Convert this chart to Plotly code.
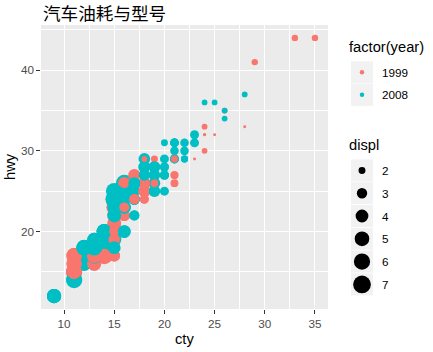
import numpy as np
import plotly.graph_objects as go

# ---- data (mpg: displ, year, cty, hwy) ----
displ = [1.8,1.8,2.0,2.0,2.8,2.8,3.1,1.8,1.8,2.0,2.0,2.8,2.8,3.1,3.1,2.8,3.1,4.2,
         5.3,5.3,5.3,5.7,6.0,5.7,5.7,6.2,6.2,7.0,5.3,5.3,5.7,6.5,2.4,2.4,3.1,3.5,3.6,
         2.4,3.0,3.3,3.3,3.3,3.3,3.3,3.8,3.8,3.8,4.0,3.7,3.7,3.9,3.9,4.7,4.7,4.7,5.2,5.2,
         3.9,4.7,4.7,4.7,5.2,5.7,5.9,4.7,4.7,4.7,4.7,5.2,5.2,5.7,5.9,4.7,5.2,
         4.6,5.4,5.4,4.0,4.0,4.0,4.0,4.6,5.0,4.2,4.2,4.6,4.6,4.6,5.4,5.4,3.8,3.8,4.0,4.0,4.6,4.6,4.6,4.6,5.4,
         1.6,1.6,1.6,1.6,1.6,1.8,1.8,1.8,2.0,
         2.4,2.4,2.4,2.4,2.5,2.5,3.3,2.0,2.0,2.0,2.0,2.7,2.7,2.7,
         3.0,3.7,4.0,4.7,4.7,4.7,5.7,6.1,
         4.0,4.2,4.4,4.6,
         5.4,5.4,5.4,
         4.0,4.0,4.6,5.0,
         2.4,2.4,2.5,2.5,3.5,3.5,3.0,3.0,3.5,3.3,3.3,4.0,5.6,
         3.1,3.8,3.8,3.8,5.3,
         2.5,2.5,2.5,2.5,2.5,2.5,2.2,2.2,2.5,2.5,2.5,2.5,2.5,2.5,
         2.7,2.7,3.4,3.4,4.0,4.7,2.2,2.2,2.4,2.4,3.0,3.0,3.5,2.2,2.2,2.4,2.4,3.0,3.0,3.3,
         1.8,1.8,1.8,1.8,1.8,4.7,5.7,2.7,2.7,2.7,3.4,3.4,4.0,4.0,
         2.0,2.0,2.0,2.0,2.8,1.9,2.0,2.0,2.0,2.0,2.5,2.5,2.8,2.8,1.9,1.9,2.0,2.0,2.5,2.5,
         1.8,1.8,2.0,2.0,2.8,2.8,3.6]
year = [1999,1999,2008,2008,1999,1999,2008,1999,1999,2008,2008,1999,1999,2008,2008,1999,2008,2008,
        2008,2008,2008,1999,2008,1999,1999,2008,2008,2008,2008,2008,1999,1999,1999,2008,1999,2008,2008,
        1999,1999,1999,1999,2008,2008,2008,1999,1999,2008,2008,2008,2008,1999,1999,2008,2008,2008,1999,1999,
        1999,2008,2008,2008,1999,2008,1999,2008,2008,2008,2008,1999,1999,2008,1999,2008,1999,
        1999,1999,2008,1999,1999,1999,2008,2008,1999,1999,1999,1999,1999,2008,1999,2008,1999,1999,2008,2008,1999,1999,2008,2008,2008,
        1999,1999,1999,1999,1999,2008,2008,2008,2008,
        1999,1999,2008,2008,1999,1999,2008,1999,1999,2008,2008,2008,2008,2008,
        2008,2008,1999,1999,2008,2008,2008,2008,
        1999,2008,2008,1999,
        1999,1999,2008,
        1999,2008,2008,1999,
        1999,1999,2008,2008,2008,2008,1999,1999,2008,1999,1999,2008,2008,
        1999,1999,1999,2008,2008,
        1999,1999,2008,2008,2008,2008,1999,1999,1999,1999,2008,2008,2008,2008,
        1999,1999,1999,1999,2008,2008,1999,1999,2008,2008,1999,1999,2008,1999,1999,2008,2008,1999,1999,2008,
        1999,1999,1999,2008,2008,1999,2008,1999,1999,2008,1999,1999,2008,2008,
        1999,1999,2008,2008,1999,1999,1999,1999,2008,2008,2008,2008,1999,1999,1999,1999,1999,1999,2008,2008,
        1999,1999,2008,2008,1999,1999,2008]
cty = [18,21,20,21,16,18,18,18,16,20,19,15,17,17,15,15,17,16,
       14,11,14,13,12,16,15,16,15,15,14,11,11,14,19,22,18,18,17,
       18,17,16,16,17,17,11,15,15,16,16,15,14,13,14,14,14,9,11,11,
       13,13,9,13,11,13,11,12,9,13,13,11,11,13,11,12,11,
       11,11,12,14,15,14,13,13,13,14,14,13,13,13,11,13,18,18,17,16,15,15,15,15,14,
       28,24,25,23,24,26,25,24,21,
       18,18,21,21,18,18,19,19,19,20,20,17,16,17,
       17,15,15,14,9,14,13,11,
       11,12,12,11,
       11,11,12,
       14,13,13,13,
       21,19,23,23,19,19,18,19,19,14,15,14,12,
       18,16,17,18,16,
       18,18,20,20,19,20,21,19,19,19,20,20,19,20,
       15,16,15,15,16,15,21,21,21,21,18,18,19,21,21,21,22,18,18,18,
       24,24,26,28,26,11,13,15,16,17,15,15,15,16,
       21,19,21,22,17,33,21,19,22,21,21,21,16,17,35,29,21,19,20,20,
       21,18,19,22,17,16,17]
hwy = [29,29,31,30,26,26,27,26,25,28,27,25,25,25,25,24,25,23,
       20,15,20,17,17,26,23,26,25,24,19,14,15,17,27,30,26,29,26,
       24,24,22,22,24,24,17,22,21,23,23,19,18,17,17,19,19,12,17,15,
       17,17,12,17,16,18,15,16,12,17,17,15,16,17,15,16,15,
       17,17,18,17,19,17,19,19,17,17,17,16,16,17,15,17,26,25,26,24,21,22,23,22,20,
       33,32,32,29,32,34,36,36,29,
       26,27,30,31,26,26,28,26,29,28,27,24,24,24,
       22,19,20,17,12,19,18,14,
       15,18,18,15,
       17,16,18,
       17,19,19,17,
       29,27,31,32,27,26,26,25,25,17,17,20,18,
       26,26,27,28,25,
       25,24,27,25,25,27,26,26,26,26,28,27,26,27,
       20,20,19,17,20,19,29,27,31,31,26,26,28,27,29,31,31,26,26,27,
       30,33,35,37,35,15,18,20,20,22,17,19,18,20,
       29,26,29,29,24,44,29,26,29,29,29,29,23,24,44,41,29,26,28,29,
       29,29,28,29,24,26,26]

year_levels = ["1999", "2008"]
year_colors = ["#F8766D", "#00BFC4"]
displ_breaks = [2, 3, 4, 5, 6, 7]

# ---- scales ----
dmin, dmax = min(displ), max(displ)
PX_PER_SIZE = 2.95
def size_px(d):
    return PX_PER_SIZE * (1 + 5 * np.sqrt((d - dmin) / (dmax - dmin)))

col_map = dict(zip(year_levels, year_colors))
colors = [col_map[str(y)] for y in year]
sizes = [size_px(d) for d in displ]

fig = go.Figure()
fig.add_trace(go.Scatter(
    x=cty, y=hwy, mode="markers",
    marker=dict(size=sizes, color=colors, line=dict(width=0), opacity=1),
    hoverinfo="skip", showlegend=False))

W, H = 433, 352
L, R, T, B = 41, 328, 25, 309
def px2x(p): return (p - L) / (R - L)
def py2y(p): return (B - p) / (B - T)

FONT = "Liberation Sans, Arial, sans-serif"
axis_common = dict(
    showline=False, zeroline=False, ticks="outside", ticklen=3.7, tickwidth=1.07,
    tickcolor="#333333", tickfont=dict(family=FONT, size=11.7, color="#4D4D4D"),
    gridcolor="white", gridwidth=1.4, showgrid=True,
)
fig.update_xaxes(range=[7.7, 36.3], tick0=0, dtick=5,
                 minor=dict(dtick=2.5, tick0=0, showgrid=True, gridcolor="white", gridwidth=0.7, ticks=""),
                 **axis_common)
fig.update_yaxes(range=[10.4, 45.6], tick0=0, dtick=10,
                 minor=dict(dtick=5, tick0=0, showgrid=True, gridcolor="white", gridwidth=0.7, ticks=""),
                 **axis_common)

shapes = []
annotations = []
# title
annotations.append(dict(text="汽车油耗与型号", xref="paper", yref="paper", x=0, y=1,
                        xanchor="left", yanchor="middle", yshift=13, showarrow=False,
                        font=dict(family="Noto Sans CJK SC", size=17.6, color="black")))
# axis titles
annotations.append(dict(text="cty", xref="paper", yref="paper", x=0.5, y=0, xanchor="center",
                        yanchor="middle", yshift=-30, showarrow=False,
                        font=dict(family=FONT, size=14.7, color="black")))
annotations.append(dict(text="hwy", xref="paper", yref="paper", x=0, y=0.5, xanchor="center",
                        yanchor="middle", xshift=-31, textangle=-90, showarrow=False,
                        font=dict(family=FONT, size=14.7, color="black")))

# ---- manual legends ----
KEY = 22
KX = 362
LABX = 380
def key_box(cy):
    shapes.append(dict(type="rect", xref="paper", yref="paper",
                       x0=px2x(KX - KEY / 2), x1=px2x(KX + KEY / 2),
                       y0=py2y(cy + KEY / 2), y1=py2y(cy - KEY / 2),
                       fillcolor="#F2F2F2", line=dict(width=0), layer="above"))
def key_dot(cy, d, color):
    r = d / 2
    shapes.append(dict(type="circle", xref="paper", yref="paper",
                       xsizemode="pixel", ysizemode="pixel",
                       xanchor=px2x(KX), yanchor=py2y(cy),
                       x0=-r, x1=r, y0=-r, y1=r,
                       fillcolor=color, line=dict(width=0), layer="above"))
def label(txt, x, cy, size):
    annotations.append(dict(text=txt, xref="paper", yref="paper", x=px2x(x), y=py2y(cy),
                            xanchor="left", yanchor="middle", showarrow=False,
                            font=dict(family=FONT, size=size, color="black")))

label("factor(year)", 347, 47, 14.7)
for i, (lv, c) in enumerate(zip(year_levels, year_colors)):
    cy = 72.3 + 22.5 * i
    key_box(cy)
    key_dot(cy, 1.5 * PX_PER_SIZE, c)
    label(lv, LABX, cy, 11.7)

label("displ", 347, 145, 14.7)
for i, b in enumerate(displ_breaks):
    cy = 170.4 + 22.8 * i
    key_box(cy)
    key_dot(cy, size_px(b), "black")
    label(str(b), LABX, cy, 11.7)

fig.update_layout(
    width=W, height=H, autosize=False,
    margin=dict(l=L, r=W - R, t=T, b=H - B, pad=0),
    paper_bgcolor="white", plot_bgcolor="#EBEBEB",
    showlegend=False, shapes=shapes, annotations=annotations,
    font=dict(family=FONT),
)
fig.write_html("out.html")
